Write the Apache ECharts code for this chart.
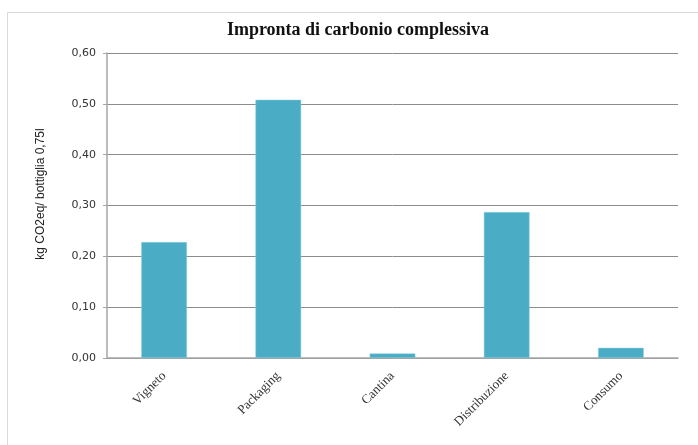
<!DOCTYPE html>
<html>
<head>
<meta charset="utf-8">
<script src="https://cdn.jsdelivr.net/npm/echarts@6/dist/echarts.min.js"></script>
<style>
html,body{margin:0;padding:0;background:#fff;}
#chart{width:698px;height:445px;}
</style>
</head>
<body>
<div id="chart"></div>
<script>
const categories = ['Vigneto', 'Packaging', 'Cantina', 'Distribuzione', 'Consumo'];
const values = [0.228, 0.508, 0.009, 0.287, 0.020];
const titleText = 'Impronta di carbonio complessiva';
const yAxisTitle = 'kg CO2eq/ bottiglia 0,75l';

const chart = echarts.init(document.getElementById('chart'));
chart.setOption({
  animation: false,
  backgroundColor: '#ffffff',
  graphic: [
    { type: 'rect', shape: { x: 7.5, y: 12.5, width: 700, height: 450 },
      style: { fill: 'none', stroke: '#d9d9d9', lineWidth: 1 }, silent: true },
    { type: 'text', x: 358, y: 30,
      style: { text: titleText, align: 'center', verticalAlign: 'middle',
               font: 'bold 18px "Liberation Serif", "DejaVu Serif", serif', fill: '#111' } },
    { type: 'text', x: 41, y: 194, rotation: Math.PI / 2,
      style: { text: yAxisTitle, align: 'center', verticalAlign: 'middle',
               font: '12px "Liberation Sans", "DejaVu Sans", sans-serif', fill: '#222' } }
  ],
  grid: { left: 107, right: 20, top: 53, bottom: 87, containLabel: false },
  xAxis: {
    type: 'category',
    data: categories,
    axisLine: { lineStyle: { color: '#a6a6a6', width: 1.5 } },
    axisTick: { show: false },
    axisLabel: {
      rotate: 45, margin: 16, color: '#333',
      fontFamily: '"Liberation Serif", "DejaVu Serif", serif', fontSize: 13
    }
  },
  yAxis: {
    type: 'value',
    min: 0, max: 0.6, interval: 0.1,
    axisLine: { show: true, lineStyle: { color: '#a6a6a6', width: 1.5 } },
    axisTick: { show: true, length: 4, lineStyle: { color: '#a6a6a6' } },
    splitLine: { show: true, lineStyle: { color: '#8c8c8c', width: 1 } },
    axisLabel: {
      margin: 11, color: '#333', fontFamily: '"DejaVu Sans", sans-serif', fontSize: 11,
      formatter: v => v.toFixed(2).replace('.', ',')
    }
  },
  series: [{
    type: 'bar',
    data: values,
    barCategoryGap: '60%',
    itemStyle: { color: '#4bacc6', borderColor: '#8fd0e0', borderWidth: 0.5 }
  }]
});
</script>
</body>
</html>
